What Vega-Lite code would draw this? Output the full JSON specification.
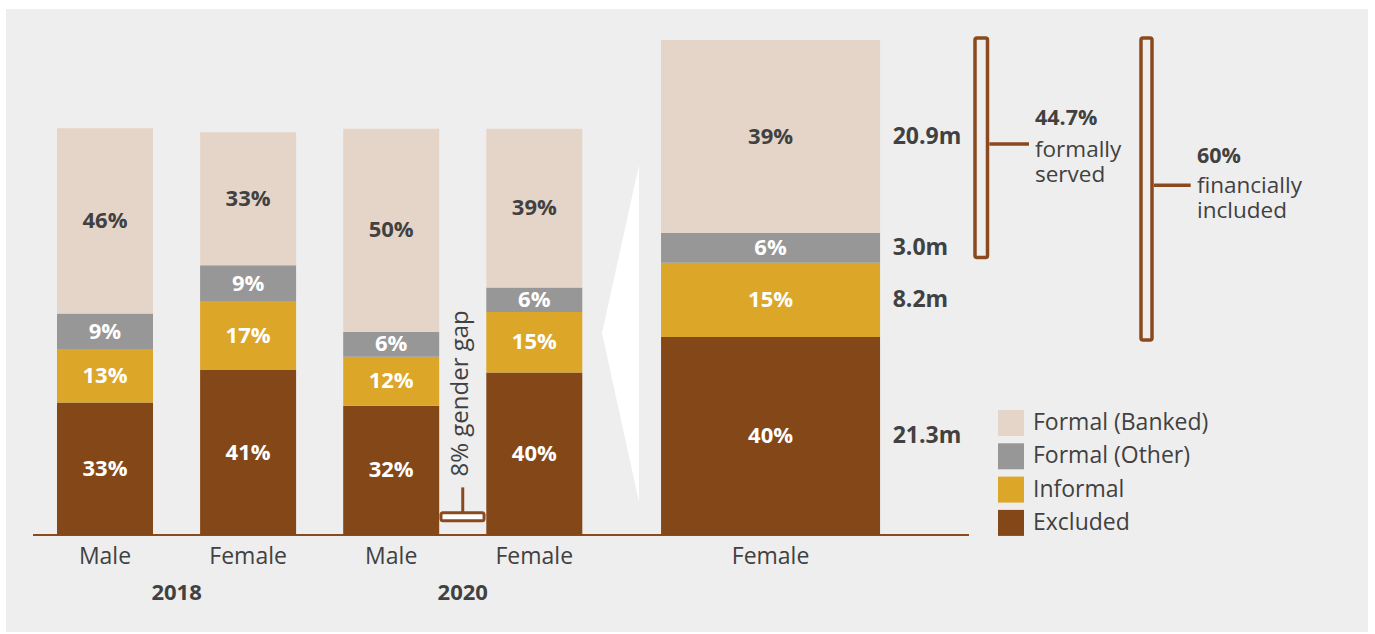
{
  "$schema": "https://vega.github.io/schema/vega-lite/v6.json",
  "width": 1375,
  "height": 634,
  "autosize": {"type": "fit", "contains": "padding"},
  "padding": {"left": 6, "top": 9, "right": 7, "bottom": 2},
  "background": "#ffffff",
  "config": {
    "view": {"fill": "#eeeeee", "stroke": null},
    "axis": {"disable": true},
    "text": {"font": "Open Sans", "color": "#414141"},
    "legend": {
      "orient": "none",
      "legendX": 992,
      "legendY": 401,
      "direction": "vertical",
      "padding": 0,
      "symbolType": "square",
      "symbolSize": 676,
      "symbolStrokeWidth": 0,
      "symbolOpacity": 1,
      "labelFont": "Open Sans",
      "labelFontSize": 23,
      "labelColor": "#414141",
      "labelOffset": 9,
      "labelLimit": 400,
      "rowPadding": 7.3
    }
  },
  "datasets": {
    "bars": [
      {"year": "2018", "sex": "Male", "slot": 1, "category": "Excluded", "order": 1, "value": 32.6, "label": "33%"},
      {"year": "2018", "sex": "Male", "slot": 1, "category": "Informal", "order": 2, "value": 13.0, "label": "13%"},
      {"year": "2018", "sex": "Male", "slot": 1, "category": "Formal (Other)", "order": 3, "value": 8.9, "label": "9%"},
      {"year": "2018", "sex": "Male", "slot": 1, "category": "Formal (Banked)", "order": 4, "value": 45.6, "label": "46%"},
      {"year": "2018", "sex": "Female", "slot": 2, "category": "Excluded", "order": 1, "value": 40.6, "label": "41%"},
      {"year": "2018", "sex": "Female", "slot": 2, "category": "Informal", "order": 2, "value": 16.8, "label": "17%"},
      {"year": "2018", "sex": "Female", "slot": 2, "category": "Formal (Other)", "order": 3, "value": 9.0, "label": "9%"},
      {"year": "2018", "sex": "Female", "slot": 2, "category": "Formal (Banked)", "order": 4, "value": 32.7, "label": "33%"},
      {"year": "2020", "sex": "Male", "slot": 3, "category": "Excluded", "order": 1, "value": 31.8, "label": "32%"},
      {"year": "2020", "sex": "Male", "slot": 3, "category": "Informal", "order": 2, "value": 12.1, "label": "12%"},
      {"year": "2020", "sex": "Male", "slot": 3, "category": "Formal (Other)", "order": 3, "value": 6.1, "label": "6%"},
      {"year": "2020", "sex": "Male", "slot": 3, "category": "Formal (Banked)", "order": 4, "value": 50.0, "label": "50%"},
      {"year": "2020", "sex": "Female", "slot": 4, "category": "Excluded", "order": 1, "value": 40.0, "label": "40%"},
      {"year": "2020", "sex": "Female", "slot": 4, "category": "Informal", "order": 2, "value": 14.9, "label": "15%"},
      {"year": "2020", "sex": "Female", "slot": 4, "category": "Formal (Other)", "order": 3, "value": 6.0, "label": "6%"},
      {"year": "2020", "sex": "Female", "slot": 4, "category": "Formal (Banked)", "order": 4, "value": 39.1, "label": "39%"}
    ],
    "zoom": [
      {"year": "2020", "sex": "Female", "category": "Excluded", "order": 1, "value": 40, "label": "40%", "people": "21.3m"},
      {"year": "2020", "sex": "Female", "category": "Informal", "order": 2, "value": 15, "label": "15%", "people": "8.2m"},
      {"year": "2020", "sex": "Female", "category": "Formal (Other)", "order": 3, "value": 6, "label": "6%", "people": "3.0m"},
      {"year": "2020", "sex": "Female", "category": "Formal (Banked)", "order": 4, "value": 39, "label": "39%", "people": "20.9m"}
    ],
    "wedge": [
      {"x": 4.473, "lo": 40.81, "hi": 40.81},
      {"x": 4.7317, "lo": 6.67, "hi": 74.75}
    ]
  },
  "resolve": {"scale": {"y": "independent"}},
  "layer": [
    {
      "data": {"name": "bars"},
      "layer": [
        {
          "data": {"values": [{"line": "baseline"}]},
          "mark": {"type": "rule", "color": "#8a4a1d", "strokeWidth": 2},
          "encoding": {
            "x": {"datum": 0.497, "type": "quantitative", "scale": {"domain": [0.3082, 9.826], "nice": false, "zero": false, "padding": 0}, "axis": null},
            "x2": {"datum": 7.0377},
            "y": {"datum": 0, "type": "quantitative", "scale": {"domain": [-23.87, 129.46], "nice": false, "zero": false}, "axis": null}
          }
        },
        {
          "transform": [
            {"stack": "value", "groupby": ["year", "sex"], "sort": [{"field": "order", "order": "ascending"}], "as": ["y0", "y1"]}
          ],
          "mark": {"type": "bar", "size": 96},
          "encoding": {
            "x": {"field": "slot", "type": "quantitative", "axis": null},
            "y": {"field": "y0", "type": "quantitative", "axis": null},
            "y2": {"field": "y1"},
            "color": {
              "field": "category",
              "type": "nominal",
              "scale": {"domain": ["Formal (Banked)", "Formal (Other)", "Informal", "Excluded"], "range": ["#e5d5c9", "#979797", "#dca629", "#844718"]},
              "legend": {"title": null}
            }
          }
        },
        {
          "transform": [
            {"stack": "value", "groupby": ["year", "sex"], "sort": [{"field": "order", "order": "ascending"}], "as": ["y0", "y1"]},
            {"calculate": "(datum.y0 + datum.y1) / 2", "as": "mid"}
          ],
          "mark": {"type": "text", "fontWeight": "bold", "fontSize": 22, "baseline": "middle", "align": "center"},
          "encoding": {
            "x": {"field": "slot", "type": "quantitative"},
            "y": {"field": "mid", "type": "quantitative"},
            "text": {"field": "label"},
            "color": {"condition": {"test": "datum.category === 'Formal (Banked)'", "value": "#414141"}, "value": "#ffffff"}
          }
        },
        {
          "transform": [{"filter": "datum.order === 1"}],
          "mark": {"type": "text", "fontSize": 23, "baseline": "alphabetic", "align": "center"},
          "encoding": {
            "x": {"field": "slot", "type": "quantitative"},
            "y": {"datum": -7.14},
            "text": {"field": "sex"}
          }
        },
        {
          "transform": [{"aggregate": [{"op": "mean", "field": "slot", "as": "mid"}], "groupby": ["year"]}],
          "mark": {"type": "text", "fontSize": 22, "fontWeight": "bold", "baseline": "alphabetic", "align": "center"},
          "encoding": {
            "x": {"field": "mid", "type": "quantitative"},
            "y": {"datum": -16.0},
            "text": {"field": "year"}
          }
        },
        {
          "data": {"values": [{"note": "8% gender gap"}]},
          "mark": {"type": "text", "fontSize": 24, "angle": 270, "baseline": "alphabetic", "align": "center"},
          "encoding": {
            "x": {"datum": 3.5367},
            "y": {"datum": 34.85},
            "text": {"field": "note"}
          }
        },
        {
          "data": {"values": [{"note": "gap stem"}]},
          "mark": {"type": "rule", "color": "#8a4a1d", "strokeWidth": 3},
          "encoding": {
            "x": {"datum": 3.5},
            "y": {"datum": 11.72},
            "y2": {"datum": 5.6}
          }
        },
        {
          "data": {"values": [{"note": "gap marker"}]},
          "mark": {"type": "rect", "fill": "#ffffff", "stroke": "#8a4a1d", "strokeWidth": 3, "cornerRadius": 2},
          "encoding": {
            "x": {"datum": 3.348},
            "x2": {"datum": 3.649},
            "y": {"datum": 5.48},
            "y2": {"datum": 3.51}
          }
        }
      ]
    },
    {
      "layer": [
        {
          "data": {"name": "wedge"},
          "mark": {"type": "area", "color": "#ffffff", "opacity": 1},
          "encoding": {
            "x": {"field": "x", "type": "quantitative"},
            "y": {"field": "hi", "type": "quantitative", "scale": {"domain": [-19.596, 106.263], "nice": false, "zero": false}, "axis": null},
            "y2": {"field": "lo"}
          }
        },
        {
          "data": {"name": "zoom"},
          "transform": [
            {"stack": "value", "groupby": ["year", "sex"], "sort": [{"field": "order", "order": "ascending"}], "as": ["y0", "y1"]}
          ],
          "mark": {"type": "bar", "size": 219},
          "encoding": {
            "x": {"datum": 5.651, "type": "quantitative"},
            "y": {"field": "y0", "type": "quantitative"},
            "y2": {"field": "y1"},
            "color": {"field": "category", "type": "nominal"}
          }
        },
        {
          "data": {"name": "zoom"},
          "transform": [
            {"stack": "value", "groupby": ["year", "sex"], "sort": [{"field": "order", "order": "ascending"}], "as": ["y0", "y1"]},
            {"calculate": "(datum.y0 + datum.y1) / 2", "as": "mid"}
          ],
          "mark": {"type": "text", "fontWeight": "bold", "fontSize": 22, "baseline": "middle", "align": "center"},
          "encoding": {
            "x": {"datum": 5.651, "type": "quantitative"},
            "y": {"field": "mid", "type": "quantitative"},
            "text": {"field": "label"},
            "color": {"condition": {"test": "datum.category === 'Formal (Banked)'", "value": "#414141"}, "value": "#ffffff"}
          }
        },
        {
          "data": {"name": "zoom"},
          "transform": [
            {"stack": "value", "groupby": ["year", "sex"], "sort": [{"field": "order", "order": "ascending"}], "as": ["y0", "y1"]},
            {"calculate": "(datum.y0 + datum.y1) / 2", "as": "mid"}
          ],
          "mark": {"type": "text", "fontWeight": "bold", "fontSize": 23, "baseline": "middle", "align": "left"},
          "encoding": {
            "x": {"datum": 6.5045, "type": "quantitative"},
            "y": {"field": "mid", "type": "quantitative"},
            "text": {"field": "people"}
          }
        },
        {
          "data": {"name": "zoom"},
          "transform": [{"filter": "datum.order === 1"}],
          "mark": {"type": "text", "fontSize": 23, "baseline": "alphabetic", "align": "center"},
          "encoding": {
            "x": {"datum": 5.651, "type": "quantitative"},
            "y": {"datum": -5.86},
            "text": {"field": "sex"}
          }
        },
        {
          "data": {"values": [{"bracket": "formally served"}]},
          "mark": {"type": "rect", "fillOpacity": 0, "stroke": "#8a4a1d", "strokeWidth": 3.5, "cornerRadius": 2},
          "encoding": {
            "x": {"datum": 7.0797},
            "x2": {"datum": 7.167},
            "y": {"datum": 100.4},
            "y2": {"datum": 56.06}
          }
        },
        {
          "data": {"values": [{"bracket": "formally served"}]},
          "mark": {"type": "rule", "color": "#8a4a1d", "strokeWidth": 3.5},
          "encoding": {
            "x": {"datum": 7.18},
            "x2": {"datum": 7.457},
            "y": {"datum": 79.0}
          }
        },
        {
          "data": {"values": [{"pct": "44.7%", "desc": "formally\nserved"}]},
          "layer": [
            {
              "mark": {"type": "text", "fontWeight": "bold", "fontSize": 21.5, "align": "left", "baseline": "alphabetic"},
              "encoding": {"x": {"datum": 7.499}, "y": {"datum": 82.83}, "text": {"field": "pct"}}
            },
            {
              "mark": {"type": "text", "fontSize": 22.5, "align": "left", "baseline": "alphabetic", "lineBreak": "\n", "lineHeight": 24.5},
              "encoding": {"x": {"datum": 7.499}, "y": {"datum": 76.36}, "text": {"field": "desc"}}
            }
          ]
        },
        {
          "data": {"values": [{"bracket": "financially included"}]},
          "mark": {"type": "rect", "fillOpacity": 0, "stroke": "#8a4a1d", "strokeWidth": 3.5, "cornerRadius": 2},
          "encoding": {
            "x": {"datum": 8.2397},
            "x2": {"datum": 8.3166},
            "y": {"datum": 100.4},
            "y2": {"datum": 39.39}
          }
        },
        {
          "data": {"values": [{"bracket": "financially included"}]},
          "mark": {"type": "rule", "color": "#8a4a1d", "strokeWidth": 3.5},
          "encoding": {
            "x": {"datum": 8.33},
            "x2": {"datum": 8.587},
            "y": {"datum": 70.65}
          }
        },
        {
          "data": {"values": [{"pct": "60%", "desc": "financially\nincluded"}]},
          "layer": [
            {
              "mark": {"type": "text", "fontWeight": "bold", "fontSize": 21.5, "align": "left", "baseline": "alphabetic"},
              "encoding": {"x": {"datum": 8.631}, "y": {"datum": 75.15}, "text": {"field": "pct"}}
            },
            {
              "mark": {"type": "text", "fontSize": 22.5, "align": "left", "baseline": "alphabetic", "lineBreak": "\n", "lineHeight": 24.5},
              "encoding": {"x": {"datum": 8.631}, "y": {"datum": 69.09}, "text": {"field": "desc"}}
            }
          ]
        }
      ]
    }
  ]
}
